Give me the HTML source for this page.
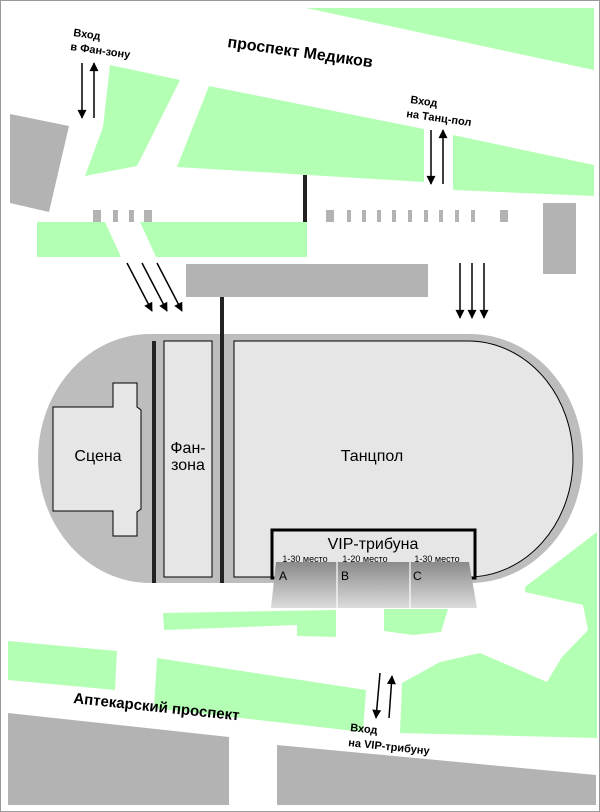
<!DOCTYPE html>
<html><head><meta charset="utf-8"><style>
html,body{margin:0;padding:0;background:#fff}
svg{display:block}
text{font-family:"Liberation Sans","DejaVu Sans",sans-serif}
</style></head><body>
<svg width="600" height="812" viewBox="0 0 600 812" xmlns="http://www.w3.org/2000/svg">
<defs>
<linearGradient id="g" x1="0" y1="0" x2="0" y2="1"><stop offset="0" stop-color="#8a8a8a"/><stop offset="1" stop-color="#dcdcdc"/></linearGradient>
<marker id="ah" viewBox="0 0 10 10" refX="9" refY="5" markerWidth="6.5" markerHeight="6" orient="auto"><path d="M0,0 L10,5 L0,10 Z" fill="#000"/></marker>
</defs>
<rect x="0.5" y="0.5" width="599" height="811" fill="#fff" stroke="#999"/>
<g fill="#b3ffb3">
<polygon points="306,8 594,8 594,70"/>
<polygon points="110,65 180,80 137,166 85,176 103,127"/>
<polygon points="209,86 424,129 424,182 177,167"/>
<polygon points="453,135 594,165 594,196 453,190"/>
<polygon points="37,222 307,222 307,257 37,257"/>
<polygon points="163,613 336,610 336,637 297,636 297,625 164,630"/>
<polygon points="384,609 448,609 441,632 413,635 384,631"/>
<polygon points="597,532 525,587 525,592 583,605 588,630 562,657 547,682 480,653 440,662 402,683 400,733 597,738"/>
<polygon points="8,641 117,651 115,690 8,680"/>
<polygon points="157,658 366,690 363,732 154,708"/>
</g>
<polygon points="105,222 140,222 156,257 121,257" fill="#fff"/>
<g fill="#b3b3b3">
<polygon points="10,114 69,126 49,212 10,203"/>
<rect x="543" y="203" width="33" height="71"/>
<rect x="186" y="264" width="242" height="33"/>
<polygon points="8,713 229,737 229,805 8,805"/>
<polygon points="277,745 596,775 596,805 277,805"/>
<rect x="93" y="210" width="8" height="12"/><rect x="113" y="210" width="5" height="12"/><rect x="129" y="210" width="5" height="12"/><rect x="144" y="210" width="8" height="12"/>
<rect x="326" y="210" width="8" height="12"/><rect x="347" y="210" width="4" height="12"/><rect x="362" y="210" width="4" height="12"/><rect x="377" y="210" width="4" height="12"/><rect x="392" y="210" width="4" height="12"/><rect x="408" y="210" width="4" height="12"/><rect x="424" y="210" width="4" height="12"/><rect x="439" y="210" width="4" height="12"/><rect x="455" y="210" width="4" height="12"/><rect x="471" y="210" width="4" height="12"/><rect x="500" y="210" width="8" height="12"/>
</g>
<rect x="303" y="175" width="4" height="47" fill="#222"/>
<g stroke="#000" stroke-width="1.5" marker-end="url(#ah)">
<line x1="82" y1="63" x2="82" y2="118"/><line x1="94" y1="118" x2="94" y2="63"/>
<line x1="431" y1="130" x2="431" y2="184"/><line x1="443" y1="184" x2="443" y2="130"/>
<line x1="127" y1="263" x2="152" y2="311"/><line x1="142" y1="263" x2="167" y2="311"/><line x1="157" y1="263" x2="182" y2="311"/>
<line x1="460" y1="263" x2="460" y2="318"/><line x1="472" y1="263" x2="472" y2="318"/><line x1="484" y1="263" x2="484" y2="318"/>
<line x1="380" y1="673" x2="376" y2="718"/><line x1="389" y1="718" x2="392" y2="676"/>
</g>
<path d="M150,334 H470 A113,124.5 0 0 1 470,583 H150 A112,124.5 0 0 1 150,334 Z" fill="#bdbdbd"/>
<path d="M234,341 H468 A105,118 0 0 1 468,577 H234 Z" fill="#e6e6e6" stroke="#000" stroke-width="1"/>
<rect x="164" y="341" width="48" height="236" fill="#e6e6e6" stroke="#000"/>
<rect x="152" y="341" width="4" height="242" fill="#222"/>
<rect x="220" y="297" width="4" height="286" fill="#222"/>
<polygon points="53,407 113,407 113,383 137,383 137,407 141,410 141,509 137,512 137,536 113,536 113,511 53,511" fill="#e6e6e6" stroke="#000"/>
<rect x="272" y="530" width="203" height="48" fill="#e6e6e6" stroke="#000" stroke-width="3"/>
<polygon points="276,562 469,562 477,608 271,608" fill="url(#g)"/>
<line x1="337" y1="562" x2="337" y2="608" stroke="#fff" stroke-width="1.2"/>
<line x1="410" y1="562" x2="410" y2="608" stroke="#fff" stroke-width="1.2"/>
<g fill="#000">
<text x="98" y="461" font-size="16" text-anchor="middle">Сцена</text>
<text x="188" y="453" font-size="16" text-anchor="middle">Фан-</text>
<text x="188" y="470" font-size="16" text-anchor="middle">зона</text>
<text x="372" y="461" font-size="16" text-anchor="middle">Танцпол</text>
<text x="373" y="549" font-size="16" text-anchor="middle">VIP-трибуна</text>
<text x="305" y="562" font-size="9" text-anchor="middle">1-30 место</text>
<text x="365" y="562" font-size="9" text-anchor="middle">1-20 место</text>
<text x="437" y="562" font-size="9" text-anchor="middle">1-30 место</text>
<text x="279" y="580" font-size="12">A</text>
<text x="341" y="580" font-size="12">B</text>
<text x="413" y="580" font-size="12">C</text>
<g font-weight="bold">
<text transform="translate(73,36) rotate(8)" font-size="11">Вход</text>
<text transform="translate(70,50) rotate(8)" font-size="11">в Фан-зону</text>
<text transform="translate(227,47) rotate(8)" font-size="16">проспект Медиков</text>
<text transform="translate(410,103) rotate(8)" font-size="11">Вход</text>
<text transform="translate(406,117) rotate(8)" font-size="11">на Танц-пол</text>
<text transform="translate(73,703) rotate(6)" font-size="15">Аптекарский проспект</text>
<text transform="translate(350,731) rotate(6)" font-size="11">Вход</text>
<text transform="translate(348,746) rotate(6)" font-size="11">на VIP-трибуну</text>
</g>
</g>
</svg>
</body></html>
